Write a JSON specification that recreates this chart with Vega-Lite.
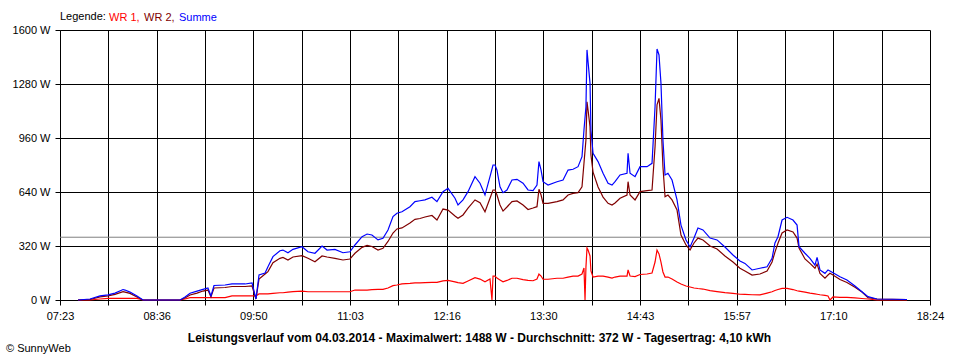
{
  "$schema": "https://vega.github.io/schema/vega-lite/v6.json",
  "width": 870,
  "height": 270,
  "autosize": {"type": "none"},
  "padding": {"left": 60, "top": 30, "right": 30, "bottom": 60},
  "background": "white",
  "config": {"view": {"stroke": null}, "font": "Liberation Sans"},
  "title": {"text": "© SunnyWeb", "orient": "bottom", "anchor": "start", "frame": "group", "fontSize": 11, "fontWeight": "normal", "color": "black", "font": "Liberation Sans", "dx": -54, "offset": 0},
  "datasets": {
    "power": [
      {"t":456.7,"WR 1":0,"WR 2":0,"Summe":0},
      {"t":465.8,"WR 1":0,"WR 2":3,"Summe":6},
      {"t":473.4,"WR 1":6,"WR 2":18,"Summe":24},
      {"t":479.5,"WR 1":10,"WR 2":24,"Summe":30},
      {"t":484.8,"WR 1":10,"WR 2":33,"Summe":41},
      {"t":490.9,"WR 1":10,"WR 2":50,"Summe":62},
      {"t":492.4,"WR 1":10,"WR 2":47,"Summe":59},
      {"t":496.2,"WR 1":10,"WR 2":39,"Summe":47},
      {"t":501.5,"WR 1":10,"WR 2":18,"Summe":24},
      {"t":506.1,"WR 1":0,"WR 2":0,"Summe":0},
      {"t":534.2,"WR 1":0,"WR 2":0,"Summe":0},
      {"t":538.0,"WR 1":6,"WR 2":12,"Summe":18},
      {"t":541.8,"WR 1":14,"WR 2":30,"Summe":40},
      {"t":547.1,"WR 1":14,"WR 2":41,"Summe":53},
      {"t":551.6,"WR 1":14,"WR 2":53,"Summe":63},
      {"t":555.4,"WR 1":14,"WR 2":59,"Summe":71},
      {"t":557.7,"WR 1":14,"WR 2":18,"Summe":24},
      {"t":560.0,"WR 1":14,"WR 2":71,"Summe":86},
      {"t":568.4,"WR 1":14,"WR 2":74,"Summe":89},
      {"t":573.7,"WR 1":24,"WR 2":80,"Summe":95},
      {"t":583.6,"WR 1":24,"WR 2":80,"Summe":95},
      {"t":588.9,"WR 1":24,"WR 2":83,"Summe":101},
      {"t":591.9,"WR 1":24,"WR 2":6,"Summe":6},
      {"t":594.2,"WR 1":36,"WR 2":124,"Summe":148},
      {"t":598.8,"WR 1":36,"WR 2":154,"Summe":160},
      {"t":601.0,"WR 1":36,"WR 2":168,"Summe":197},
      {"t":604.8,"WR 1":39,"WR 2":221,"Summe":257},
      {"t":610.1,"WR 1":43,"WR 2":247,"Summe":292},
      {"t":612.4,"WR 1":43,"WR 2":252,"Summe":296},
      {"t":616.2,"WR 1":47,"WR 2":237,"Summe":280},
      {"t":620.0,"WR 1":50,"WR 2":255,"Summe":300},
      {"t":626.9,"WR 1":53,"WR 2":263,"Summe":316},
      {"t":631.4,"WR 1":49,"WR 2":247,"Summe":286},
      {"t":636.7,"WR 1":49,"WR 2":227,"Summe":277},
      {"t":642.1,"WR 1":49,"WR 2":261,"Summe":320},
      {"t":645.9,"WR 1":49,"WR 2":255,"Summe":296},
      {"t":651.9,"WR 1":49,"WR 2":247,"Summe":300},
      {"t":658.0,"WR 1":49,"WR 2":237,"Summe":280},
      {"t":663.3,"WR 1":49,"WR 2":243,"Summe":286},
      {"t":667.1,"WR 1":59,"WR 2":277,"Summe":326},
      {"t":672.5,"WR 1":59,"WR 2":312,"Summe":375},
      {"t":676.3,"WR 1":59,"WR 2":323,"Summe":391},
      {"t":680.0,"WR 1":62,"WR 2":317,"Summe":385},
      {"t":684.6,"WR 1":63,"WR 2":296,"Summe":356},
      {"t":688.4,"WR 1":63,"WR 2":306,"Summe":366},
      {"t":692.2,"WR 1":71,"WR 2":347,"Summe":415},
      {"t":696.0,"WR 1":85,"WR 2":397,"Summe":494},
      {"t":699.0,"WR 1":89,"WR 2":421,"Summe":514},
      {"t":702.8,"WR 1":95,"WR 2":427,"Summe":523},
      {"t":708.9,"WR 1":98,"WR 2":456,"Summe":553},
      {"t":712.7,"WR 1":101,"WR 2":478,"Summe":583},
      {"t":716.5,"WR 1":101,"WR 2":483,"Summe":588},
      {"t":720.3,"WR 1":103,"WR 2":492,"Summe":593},
      {"t":725.6,"WR 1":104,"WR 2":501,"Summe":609},
      {"t":729.4,"WR 1":105,"WR 2":474,"Summe":583},
      {"t":734.0,"WR 1":113,"WR 2":539,"Summe":642},
      {"t":737.8,"WR 1":116,"WR 2":533,"Summe":662},
      {"t":743.1,"WR 1":107,"WR 2":498,"Summe":603},
      {"t":745.4,"WR 1":103,"WR 2":484,"Summe":563},
      {"t":749.2,"WR 1":99,"WR 2":504,"Summe":593},
      {"t":753.0,"WR 1":113,"WR 2":545,"Summe":642},
      {"t":758.3,"WR 1":132,"WR 2":593,"Summe":731},
      {"t":762.1,"WR 1":124,"WR 2":577,"Summe":692},
      {"t":765.9,"WR 1":108,"WR 2":523,"Summe":622},
      {"t":769.7,"WR 1":124,"WR 2":603,"Summe":731},
      {"t":771.2,"WR 1":0,"WR 2":null,"Summe":null},
      {"t":772.0,"WR 1":142,"WR 2":652,"Summe":800},
      {"t":773.5,"WR 1":142,"WR 2":652,"Summe":800},
      {"t":775.0,"WR 1":130,"WR 2":622,"Summe":770},
      {"t":777.3,"WR 1":119,"WR 2":563,"Summe":671},
      {"t":779.6,"WR 1":108,"WR 2":527,"Summe":636},
      {"t":782.6,"WR 1":116,"WR 2":551,"Summe":652},
      {"t":786.4,"WR 1":129,"WR 2":583,"Summe":711},
      {"t":790.2,"WR 1":129,"WR 2":587,"Summe":715},
      {"t":794.8,"WR 1":121,"WR 2":563,"Summe":692},
      {"t":798.6,"WR 1":116,"WR 2":536,"Summe":652},
      {"t":802.4,"WR 1":114,"WR 2":545,"Summe":648},
      {"t":805.4,"WR 1":124,"WR 2":553,"Summe":681},
      {"t":806.9,"WR 1":154,"WR 2":656,"Summe":820},
      {"t":808.5,"WR 1":142,"WR 2":622,"Summe":770},
      {"t":810.0,"WR 1":123,"WR 2":573,"Summe":701},
      {"t":813.8,"WR 1":123,"WR 2":573,"Summe":681},
      {"t":820.6,"WR 1":129,"WR 2":583,"Summe":701},
      {"t":825.2,"WR 1":129,"WR 2":593,"Summe":711},
      {"t":829.0,"WR 1":136,"WR 2":622,"Summe":770},
      {"t":832.8,"WR 1":142,"WR 2":632,"Summe":775},
      {"t":836.6,"WR 1":142,"WR 2":636,"Summe":790},
      {"t":839.6,"WR 1":154,"WR 2":671,"Summe":849},
      {"t":841.1,"WR 1":190,"WR 2":810,"Summe":1007},
      {"t":841.9,"WR 1":0,"WR 2":null,"Summe":null},
      {"t":842.6,"WR 1":195,"WR 2":950,"Summe":1145},
      {"t":843.4,"WR 1":308,"WR 2":1175,"Summe":1482},
      {"t":844.2,"WR 1":296,"WR 2":1126,"Summe":1412},
      {"t":845.7,"WR 1":261,"WR 2":1027,"Summe":1284},
      {"t":846.4,"WR 1":172,"WR 2":859,"Summe":1007},
      {"t":848.0,"WR 1":136,"WR 2":758,"Summe":869},
      {"t":851.8,"WR 1":142,"WR 2":670,"Summe":820},
      {"t":855.6,"WR 1":142,"WR 2":610,"Summe":751},
      {"t":859.4,"WR 1":136,"WR 2":573,"Summe":692},
      {"t":862.4,"WR 1":130,"WR 2":563,"Summe":681},
      {"t":864.7,"WR 1":136,"WR 2":575,"Summe":701},
      {"t":868.5,"WR 1":142,"WR 2":603,"Summe":741},
      {"t":873.8,"WR 1":142,"WR 2":622,"Summe":751},
      {"t":874.6,"WR 1":178,"WR 2":701,"Summe":869},
      {"t":876.1,"WR 1":142,"WR 2":622,"Summe":751},
      {"t":879.9,"WR 1":139,"WR 2":593,"Summe":731},
      {"t":883.7,"WR 1":151,"WR 2":642,"Summe":790},
      {"t":889.0,"WR 1":154,"WR 2":648,"Summe":790},
      {"t":892.8,"WR 1":160,"WR 2":652,"Summe":810},
      {"t":895.1,"WR 1":225,"WR 2":908,"Summe":1145},
      {"t":896.6,"WR 1":296,"WR 2":1156,"Summe":1488},
      {"t":898.1,"WR 1":273,"WR 2":1195,"Summe":1452},
      {"t":899.6,"WR 1":225,"WR 2":1067,"Summe":1284},
      {"t":901.1,"WR 1":166,"WR 2":790,"Summe":948},
      {"t":902.7,"WR 1":136,"WR 2":612,"Summe":741},
      {"t":904.9,"WR 1":136,"WR 2":622,"Summe":751},
      {"t":908.0,"WR 1":124,"WR 2":593,"Summe":711},
      {"t":911.8,"WR 1":107,"WR 2":533,"Summe":593},
      {"t":914.8,"WR 1":95,"WR 2":385,"Summe":444},
      {"t":918.6,"WR 1":83,"WR 2":326,"Summe":356},
      {"t":921.7,"WR 1":77,"WR 2":296,"Summe":314},
      {"t":924.7,"WR 1":71,"WR 2":338,"Summe":367},
      {"t":927.7,"WR 1":68,"WR 2":367,"Summe":427},
      {"t":931.5,"WR 1":65,"WR 2":356,"Summe":415},
      {"t":936.9,"WR 1":56,"WR 2":320,"Summe":367},
      {"t":942.2,"WR 1":50,"WR 2":302,"Summe":356},
      {"t":948.2,"WR 1":44,"WR 2":261,"Summe":314},
      {"t":954.3,"WR 1":39,"WR 2":225,"Summe":267},
      {"t":959.6,"WR 1":34,"WR 2":188,"Summe":231},
      {"t":963.4,"WR 1":33,"WR 2":172,"Summe":217},
      {"t":968.8,"WR 1":31,"WR 2":148,"Summe":178},
      {"t":974.8,"WR 1":30,"WR 2":154,"Summe":188},
      {"t":980.2,"WR 1":41,"WR 2":172,"Summe":197},
      {"t":984.0,"WR 1":49,"WR 2":225,"Summe":247},
      {"t":986.2,"WR 1":56,"WR 2":284,"Summe":338},
      {"t":988.5,"WR 1":62,"WR 2":336,"Summe":375},
      {"t":991.6,"WR 1":69,"WR 2":397,"Summe":474},
      {"t":995.4,"WR 1":69,"WR 2":415,"Summe":490},
      {"t":999.9,"WR 1":62,"WR 2":403,"Summe":474},
      {"t":1003.0,"WR 1":55,"WR 2":367,"Summe":444},
      {"t":1004.5,"WR 1":53,"WR 2":308,"Summe":316},
      {"t":1009.0,"WR 1":47,"WR 2":243,"Summe":277},
      {"t":1012.8,"WR 1":41,"WR 2":217,"Summe":247},
      {"t":1016.6,"WR 1":36,"WR 2":188,"Summe":207},
      {"t":1018.2,"WR 1":34,"WR 2":213,"Summe":253},
      {"t":1020.4,"WR 1":31,"WR 2":158,"Summe":178},
      {"t":1024.2,"WR 1":27,"WR 2":129,"Summe":158},
      {"t":1026.5,"WR 1":24,"WR 2":148,"Summe":178},
      {"t":1028.0,"WR 1":0,"WR 2":158,"Summe":172},
      {"t":1030.3,"WR 1":18,"WR 2":148,"Summe":162},
      {"t":1035.6,"WR 1":16,"WR 2":121,"Summe":138},
      {"t":1040.9,"WR 1":15,"WR 2":104,"Summe":119},
      {"t":1047.0,"WR 1":13,"WR 2":75,"Summe":83},
      {"t":1052.3,"WR 1":9,"WR 2":47,"Summe":49},
      {"t":1056.9,"WR 1":6,"WR 2":14,"Summe":20},
      {"t":1063.7,"WR 1":0,"WR 2":6,"Summe":6},
      {"t":1086.5,"WR 1":0,"WR 2":3,"Summe":3}
    ]
  },
  "layer": [
    {
      "data": {"values": [{"avg": 372}]},
      "mark": {"type": "rule", "color": "#808080", "strokeWidth": 1},
      "encoding": {"y": {"field": "avg", "type": "quantitative", "title": null}}
    },
    {
      "data": {"name": "power"},
      "transform": [{"fold": ["WR 1", "WR 2", "Summe"], "as": ["serie", "w"]}],
      "mark": {"type": "line", "strokeWidth": 1.2, "invalid": "filter", "interpolate": "linear"},
      "encoding": {
        "x": {
          "field": "t", "type": "quantitative",
          "scale": {"domain": [443, 1104], "nice": false, "zero": false},
          "axis": {
            "values": [443, 479.72, 516.44, 553.17, 589.89, 626.61, 663.33, 700.06, 736.78, 773.5, 810.22, 846.94, 883.67, 920.39, 957.11, 993.83, 1030.56, 1067.28, 1104],
            "labelExpr": "['07:23','','08:36','','09:50','','11:03','','12:16','','13:30','','14:43','','15:57','','17:10','','18:24'][round((datum.value-443)/36.7222)]",
            "grid": true, "gridColor": "black", "gridOpacity": 1, "gridWidth": 1,
            "domainColor": "black", "domainWidth": 1,
            "tickColor": "black", "tickSize": 5, "tickWidth": 1,
            "labelColor": "black", "labelFontSize": 11, "labelFont": "Liberation Sans", "labelPadding": 5,
            "labelFlush": false, "labelOverlap": false, "labelBound": false,
            "title": "Leistungsverlauf vom 04.03.2014 - Maximalwert: 1488 W - Durchschnitt: 372 W - Tagesertrag: 4,10 kWh",
            "titleFont": "Liberation Sans", "titleFontSize": 12, "titleFontWeight": "bold", "titleColor": "black",
            "titleX": 419, "titleY": 41, "titleBaseline": "alphabetic", "titleAlign": "center"
          }
        },
        "y": {
          "field": "w", "type": "quantitative",
          "scale": {"domain": [0, 1600], "nice": false},
          "axis": {
            "values": [0, 320, 640, 960, 1280, 1600],
            "labelExpr": "datum.value + ' W'",
            "grid": true, "gridColor": "black", "gridOpacity": 1, "gridWidth": 1,
            "domainColor": "black", "tickColor": "black", "tickSize": 5,
            "labelColor": "black", "labelFontSize": 11, "labelFont": "Liberation Sans", "labelPadding": 5,
            "labelFlush": false, "labelOverlap": false, "title": null
          }
        },
        "color": {
          "field": "serie", "type": "nominal",
          "scale": {"domain": ["WR 1", "WR 2", "Summe"], "range": ["#ff0000", "#800000", "#0000ff"]},
          "legend": {
            "orient": "none", "legendX": 0, "legendY": -18, "direction": "horizontal",
            "title": "Legende:", "titleOrient": "left", "titleFontSize": 11, "titleFontWeight": "normal",
            "titleColor": "black", "titleFont": "Liberation Sans", "titlePadding": 2,
            "labelFontSize": 11, "labelFont": "Liberation Sans",
            "symbolSize": 0.01, "symbolStrokeWidth": 0, "symbolOpacity": 0, "symbolOffset": 0, "labelOffset": -10,
            "columnPadding": 3, "padding": 0,
            "labelExpr": "datum.label == 'Summe' ? 'Summe' : datum.label + ','",
            "encode": {"labels": {"update": {"fill": {"signal": "datum.value == 'WR 1' ? '#ff0000' : (datum.value == 'WR 2' ? '#800000' : '#0000ff')"}}}}
          }
        }
      }
    }
  ]
}
